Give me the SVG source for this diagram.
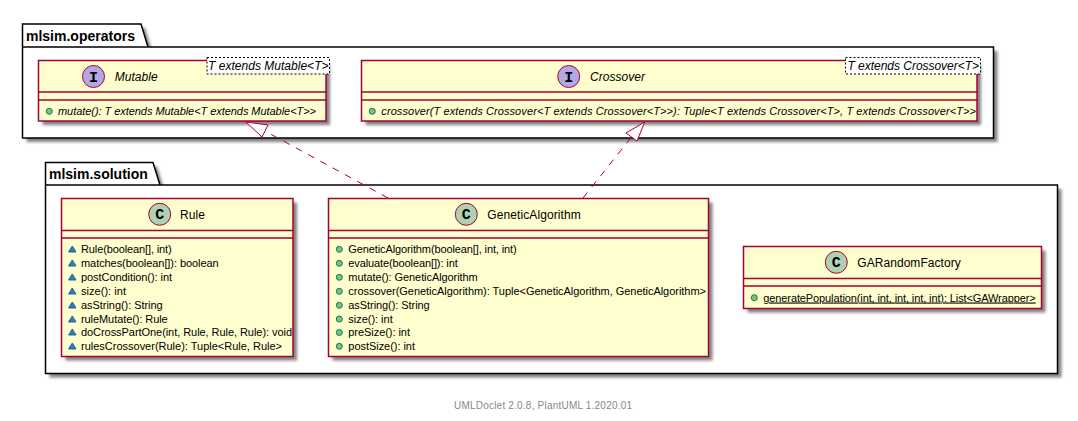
<svg xmlns="http://www.w3.org/2000/svg" width="1078" height="421" viewBox="0 0 1078 421">
<style>
text{font-family:"Liberation Sans",Arial,sans-serif;fill:#000}
.pkg{fill:#fff;stroke:#000;stroke-width:1.5}
.pt{font-size:14px;font-weight:bold}
.cls{fill:#FEFECE;stroke:#A80036;stroke-width:1.5}
.sep{stroke:#A80036;stroke-width:1.5;fill:none}
.shadow{filter:url(#sh)}
.ct{font-size:12px}
.m{font-size:11px}
.i{font-style:italic}
.tpl{fill:#fff;stroke:#000;stroke-width:1;stroke-dasharray:2 2}
.ci{fill:#B4A7E5;stroke:#A80036;stroke-width:1}
.cc{fill:#ADD1B2;stroke:#A80036;stroke-width:1}
.gl{font-family:"Liberation Mono",monospace;font-size:15px;font-weight:bold;text-anchor:middle}
.pub{fill:#84BE84;stroke:#038048;stroke-width:1}
.pkgp{fill:#4177AF;stroke:#1963A0;stroke-width:1}
.dash{stroke:#A80036;stroke-width:1;stroke-dasharray:7 7;fill:none}
.head{fill:#fff;stroke:#A80036;stroke-width:1}
</style>
<defs>
<filter id="sh" x="-5%" y="-10%" width="110%" height="125%">
<feGaussianBlur stdDeviation="1.8"/>
<feColorMatrix type="matrix" values="0 0 0 0 0.22 0 0 0 0 0.22 0 0 0 0 0.22 0 0 0 1 0"/>
</filter>
<polygon id="tri" points="72.3,246 76,252 68.6,252"/>
</defs>

<g id="pkg-operators">
<path class="shadow" transform="translate(4 4)" d="M22.5 24H141L148 47H993.5V138H22.5Z" fill="#000"/>
<path class="pkg" d="M22.5 47V24H141L148 47H993.5V138H22.5V47H148"/>
<text class="pt" x="26" y="41">mlsim.operators</text>
</g>

<g id="pkg-solution">
<path class="shadow" transform="translate(4 4)" d="M45.5 162.5H153L160 185H1057.5V373.5H45.5Z" fill="#000"/>
<path class="pkg" d="M45.5 185V162.5H153L160 185H1057.5V373.5H45.5V185H160"/>
<text class="pt" x="49" y="179">mlsim.solution</text>
</g>

<g id="Mutable">
<rect class="shadow" transform="translate(4 4)" x="38.5" y="60.5" width="287.5" height="60.5"/>
<rect class="cls" x="38.5" y="60.5" width="287.5" height="60.5"/>
<path class="sep" d="M38.5 92H326M38.5 100H326"/>
<circle class="ci" cx="93.5" cy="76.5" r="11"/>
<text class="gl" x="93.5" y="81.5">I</text>
<text class="ct i" x="114.7" y="81" textLength="43">Mutable</text>
<rect class="tpl" x="207" y="57.5" width="122.5" height="16.5"/>
<text class="ct i" x="208" y="70" textLength="120.5">T extends Mutable&lt;T&gt;</text>
<circle class="pub" cx="49.3" cy="111.3" r="3"/>
<text class="m i" x="58" y="115" textLength="258">mutate(): T extends Mutable&lt;T extends Mutable&lt;T&gt;&gt;</text>
</g>

<g id="Crossover">
<rect class="shadow" transform="translate(4 4)" x="361.5" y="60.5" width="615.5" height="60.5"/>
<rect class="cls" x="361.5" y="60.5" width="615.5" height="60.5"/>
<path class="sep" d="M361.5 92H977M361.5 100H977"/>
<circle class="ci" cx="568.7" cy="76.5" r="11"/>
<text class="gl" x="568.7" y="81.5">I</text>
<text class="ct i" x="590" y="81" textLength="55">Crossover</text>
<rect class="tpl" x="845.5" y="57.5" width="135" height="16.5"/>
<text class="ct i" x="847.5" y="70" textLength="131.5">T extends Crossover&lt;T&gt;</text>
<circle class="pub" cx="372.3" cy="111.3" r="3"/>
<text class="m i" x="381.3" y="115" textLength="594.7">crossover(T extends Crossover&lt;T extends Crossover&lt;T&gt;&gt;): Tuple&lt;T extends Crossover&lt;T&gt;, T extends Crossover&lt;T&gt;&gt;</text>
</g>

<g id="Rule">
<rect class="shadow" transform="translate(4 4)" x="61.5" y="198.5" width="231.5" height="158"/>
<rect class="cls" x="61.5" y="198.5" width="231.5" height="158"/>
<path class="sep" d="M61.5 230.5H293M61.5 238H293"/>
<circle class="cc" cx="159.7" cy="214.3" r="11"/>
<text class="gl" x="159.7" y="219.3">C</text>
<text class="ct" x="180" y="219" textLength="25">Rule</text>
<use href="#tri" class="pkgp"/><text class="m" x="81" y="253" textLength="90.7">Rule(boolean[], int)</text>
<use href="#tri" class="pkgp" y="14"/><text class="m" x="81" y="267" textLength="137.7">matches(boolean[]): boolean</text>
<use href="#tri" class="pkgp" y="28"/><text class="m" x="81" y="281" textLength="91">postCondition(): int</text>
<use href="#tri" class="pkgp" y="42"/><text class="m" x="81" y="295" textLength="45">size(): int</text>
<use href="#tri" class="pkgp" y="56"/><text class="m" x="81" y="309" textLength="81.7">asString(): String</text>
<use href="#tri" class="pkgp" y="70"/><text class="m" x="81" y="323" textLength="86.7">ruleMutate(): Rule</text>
<use href="#tri" class="pkgp" y="83"/><text class="m" x="81" y="336" textLength="211">doCrossPartOne(int, Rule, Rule, Rule): void</text>
<use href="#tri" class="pkgp" y="97"/><text class="m" x="81" y="350" textLength="201">rulesCrossover(Rule): Tuple&lt;Rule, Rule&gt;</text>
</g>

<g id="GeneticAlgorithm">
<rect class="shadow" transform="translate(4 4)" x="328.5" y="198.5" width="380" height="158"/>
<rect class="cls" x="328.5" y="198.5" width="380" height="158"/>
<path class="sep" d="M328.5 230.5H708.5M328.5 238H708.5"/>
<circle class="cc" cx="466.3" cy="214.3" r="11"/>
<text class="gl" x="466.3" y="219.3">C</text>
<text class="ct" x="487.3" y="219" textLength="93.4">GeneticAlgorithm</text>
<circle class="pub" cx="339.3" cy="249.3" r="3"/><text class="m" x="348.3" y="253" textLength="168.4">GeneticAlgorithm(boolean[], int, int)</text>
<circle class="pub" cx="339.3" cy="263.3" r="3"/><text class="m" x="348.3" y="267" textLength="109.4">evaluate(boolean[]): int</text>
<circle class="pub" cx="339.3" cy="277.3" r="3"/><text class="m" x="348.3" y="281" textLength="129.4">mutate(): GeneticAlgorithm</text>
<circle class="pub" cx="339.3" cy="291.3" r="3"/><text class="m" x="348.3" y="295" textLength="357.7">crossover(GeneticAlgorithm): Tuple&lt;GeneticAlgorithm, GeneticAlgorithm&gt;</text>
<circle class="pub" cx="339.3" cy="305.3" r="3"/><text class="m" x="348.3" y="309" textLength="81.4">asString(): String</text>
<circle class="pub" cx="339.3" cy="319" r="3"/><text class="m" x="348.3" y="323" textLength="44.4">size(): int</text>
<circle class="pub" cx="339.3" cy="332.5" r="3"/><text class="m" x="348.3" y="336" textLength="61.7">preSize(): int</text>
<circle class="pub" cx="339.3" cy="346.3" r="3"/><text class="m" x="348.3" y="350" textLength="66.7">postSize(): int</text>
</g>

<g id="GARandomFactory">
<rect class="shadow" transform="translate(4 4)" x="743.5" y="246.5" width="298" height="62"/>
<rect class="cls" x="743.5" y="246.5" width="298" height="62"/>
<path class="sep" d="M743.5 278.5H1041.5M743.5 286H1041.5"/>
<circle class="cc" cx="836.3" cy="262.3" r="11"/>
<text class="gl" x="836.3" y="267.3">C</text>
<text class="ct" x="857.3" y="267" textLength="103.4">GARandomFactory</text>
<circle class="pub" cx="754.3" cy="297.7" r="3"/>
<text class="m" x="763.3" y="301.5" textLength="272.4" text-decoration="underline">generatePopulation(int, int, int, int, int): List&lt;GAWrapper&gt;</text>
</g>

<g id="connectors">
<path class="dash" d="M388 198L265 131"/>
<polygon class="head" points="246,122 268,125 262,137"/>
<path class="dash" d="M583 198L631.5 137"/>
<polygon class="head" points="644.7,122 626,133 637,141"/>
</g>

<text x="454" y="409" font-size="10" textLength="178" style="fill:#888888">UMLDoclet 2.0.8, PlantUML 1.2020.01</text>
</svg>
